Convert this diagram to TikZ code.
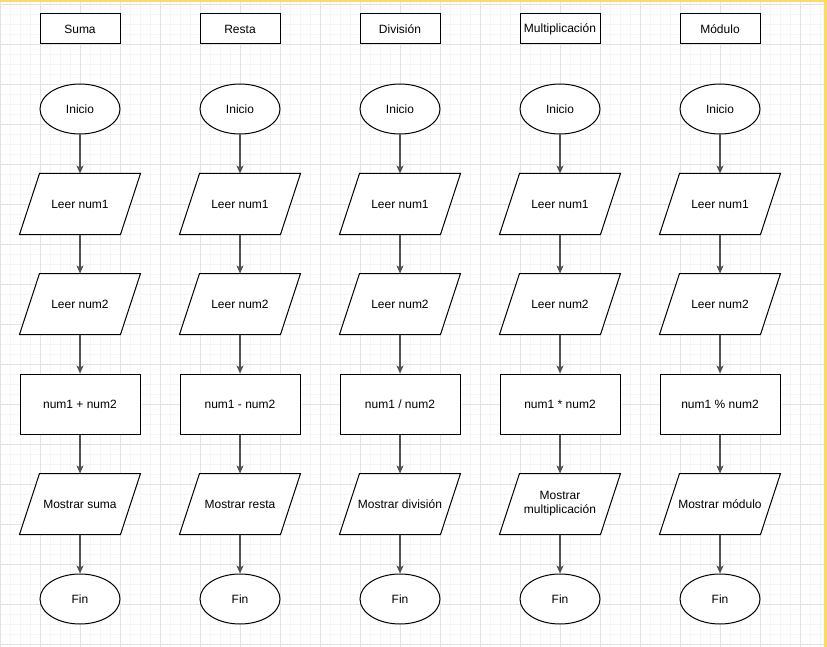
\documentclass[tikz,border=0pt]{standalone}
\usepackage{fontspec}
\setmainfont{Liberation Sans}
\usetikzlibrary{shapes.geometric,arrows.meta}
\definecolor{minorgrid}{HTML}{F5F5F5}
\definecolor{majorgrid}{HTML}{E2E2E2}
\definecolor{yborder}{HTML}{FFD966}
\definecolor{edgecol}{HTML}{505050}
\tikzset{
  base/.style={font=\fontsize{12}{14}\selectfont, align=center, inner sep=0pt, line width=1pt},
  titlebox/.style={base, draw, rectangle, minimum width=80, minimum height=30},
  terminal/.style={base, draw, ellipse, minimum width=80, minimum height=50},
  iobox/.style={base, rectangle, minimum width=120, minimum height=60},
  procbox/.style={base, draw, rectangle, minimum width=120, minimum height=60},
  flow/.style={draw=edgecol, line width=1.1pt, -{Stealth[length=8pt,width=7pt,inset=2pt]}},
}
\newcommand{\paraoutline}[1]{\draw[line width=1pt] ([xshift=20]#1.north west) -- (#1.north east) -- ([xshift=-20]#1.south east) -- (#1.south west) -- cycle;}
\begin{document}
\begin{tikzpicture}[x=1pt,y=-1pt]
\useasboundingbox (0,0) rectangle (827,647);
\fill[white] (0,0) rectangle (827,647);
% grid
\foreach \gx in {0,10,...,820} \draw[minorgrid, line width=0.6pt] (\gx,0) -- (\gx,647);
\foreach \gy in {4,14,...,644} \draw[minorgrid, line width=0.6pt] (0,\gy) -- (827,\gy);
\foreach \gx in {0,40,...,800} \draw[majorgrid, line width=0.8pt] (\gx,0) -- (\gx,647);
\foreach \gy in {4,44,...,644} \draw[majorgrid, line width=0.8pt] (0,\gy) -- (827,\gy);
\fill[yborder] (0,0) rectangle (827,2);
\fill[yborder] (824,0) rectangle (827,647);
% columns
\foreach \i/\ttl/\op/\out in {1/Suma/{num1 + num2}/{Mostrar suma},
                             2/Resta/{num1 - num2}/{Mostrar resta},
                             3/División/{num1 / num2}/{Mostrar división},
                             4/Multiplicación/{num1 * num2}/{Mostrar\\multiplicación},
                             5/Módulo/{num1 \% num2}/{Mostrar módulo}}{
  \pgfmathsetmacro{\cx}{80+160*(\i-1)}
  \node[titlebox, fill=white] (t\i) at (\cx,29) {\ttl};
  \node[terminal, fill=white] (s\i) at (\cx,109) {Inicio};
  \fill[white] (\cx-40,174) -- (\cx+60,174) -- (\cx+40,234) -- (\cx-60,234) -- cycle;
  \node[iobox] (r\i) at (\cx,204) {Leer num1};
  \paraoutline{r\i}
  \fill[white] (\cx-40,274) -- (\cx+60,274) -- (\cx+40,334) -- (\cx-60,334) -- cycle;
  \node[iobox] (q\i) at (\cx,304) {Leer num2};
  \paraoutline{q\i}
  \node[procbox, fill=white] (p\i) at (\cx,404) {\op};
  \fill[white] (\cx-40,474) -- (\cx+60,474) -- (\cx+40,534) -- (\cx-60,534) -- cycle;
  \node[iobox] (o\i) at (\cx,504) {\out};
  \paraoutline{o\i}
  \node[terminal, fill=white] (e\i) at (\cx,599) {Fin};
  \draw[flow] (s\i) -- (r\i);
  \draw[flow] (r\i) -- (q\i);
  \draw[flow] (q\i) -- (p\i);
  \draw[flow] (p\i) -- (o\i);
  \draw[flow] (o\i) -- (e\i);
}
\end{tikzpicture}
\end{document}
